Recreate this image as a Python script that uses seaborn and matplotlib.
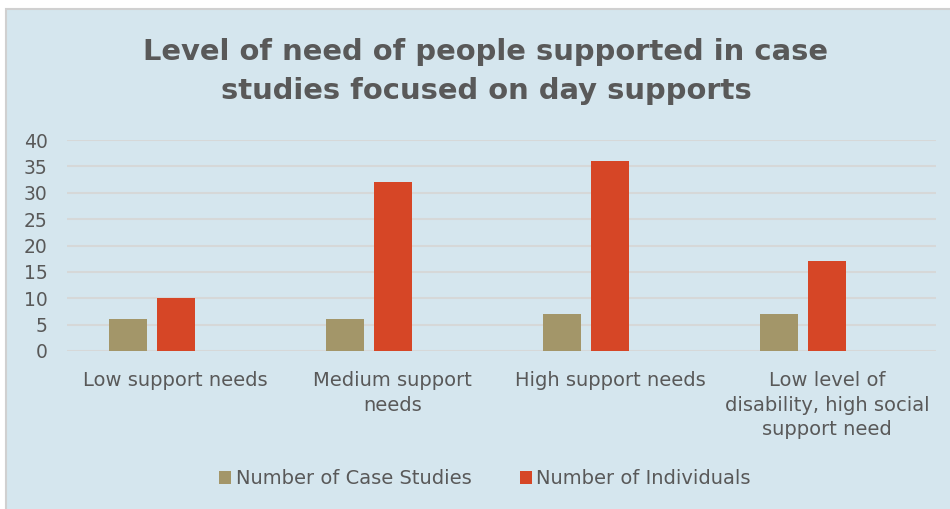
import matplotlib
matplotlib.use("Agg")
import matplotlib.pyplot as plt
import matplotlib.patches as mpatches
import seaborn as sns
import pandas as pd

categories = ["Low support needs", "Medium support\nneeds", "High support needs",
              "Low level of\ndisability, high social\nsupport need"]
case_studies = [6, 6, 7, 7]
individuals = [10, 32, 36, 17]
series_names = ["Number of Case Studies", "Number of Individuals", "_blank"]
yticks = [0, 5, 10, 15, 20, 25, 30, 35, 40]
title_lines = ["Level of need of people supported in case", "studies focused on day supports"]

TAN = "#a39669"
RED = "#d64626"
BG = "#d5e6ee"
TXT = "#595959"
GRID = "#d6d8d8"

rows = []
for c, a, b in zip(categories, case_studies, individuals):
    rows.append({"cat": c, "series": series_names[0], "value": a})
    rows.append({"cat": c, "series": series_names[1], "value": b})
    rows.append({"cat": c, "series": series_names[2], "value": 0})
df = pd.DataFrame(rows)

sns.set_theme(style="white")
plt.rcParams['font.family'] = ['DejaVu Sans']

fig = plt.figure(figsize=(9.5, 5.09), dpi=100, facecolor="white")
fig.patches.append(mpatches.Rectangle((6/950, -0.1), 1.2, 1.1 - 9/509, transform=fig.transFigure,
                                      facecolor=BG, edgecolor="#d0d0d0", linewidth=1.5, zorder=-5))
ax = fig.add_axes([67/950, 1 - 351/509, (936 - 67)/950, (351 - 140)/509])
ax.set_facecolor("none")
ax.set_zorder(2)

sns.barplot(data=df, x="cat", y="value", hue="series", order=categories,
            hue_order=series_names, palette=[TAN, RED, RED], width=0.663, gap=0.21,
            ax=ax, legend=False, saturation=1, zorder=3)
for p in ax.patches:
    p.set_linewidth(0)

ax.set_ylim(0, 40)
ax.set_xlim(-0.5, 3.5)
ax.set_yticks(yticks)
ax.yaxis.grid(True, color=GRID, linewidth=1.5, zorder=0)
ax.set_axisbelow(True)
for s in ax.spines.values():
    s.set_visible(False)
ax.set_xlabel("")
ax.set_ylabel("")
ax.tick_params(axis="y", labelsize=13.5, labelcolor=TXT, pad=14, length=0)
ax.tick_params(axis="x", labelsize=14, labelcolor=TXT, pad=14.5, length=0)
for lab in ax.get_yticklabels():
    lab.set_horizontalalignment("right")
for lab in ax.get_xticklabels():
    lab.set_linespacing(1.36)
    lab.set_verticalalignment("top")

for line, ybase in zip(title_lines, [60, 99]):
    fig.text(486/950, 1 - ybase/509, line, ha="center", va="baseline",
             fontsize=20.9, fontweight="bold", color=TXT)

handles = [mpatches.Patch(facecolor=TAN, edgecolor="none", label=series_names[0]),
           mpatches.Patch(facecolor=RED, edgecolor="none", label=series_names[1])]
fig.legend(handles=handles, loc="center", bbox_to_anchor=(485/950, 1 - 479/509), ncol=2,
           frameon=False, fontsize=14, labelcolor=TXT, handlelength=0.6, handleheight=0.6,
           handletextpad=0.25, columnspacing=2.5)

fig.savefig("out.png", dpi=100, facecolor="white")
